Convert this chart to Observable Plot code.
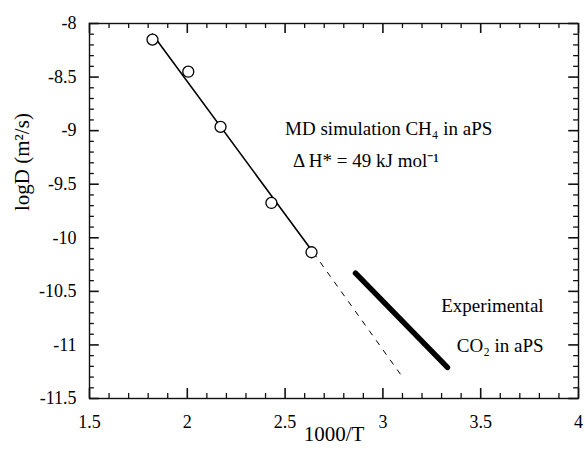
<!DOCTYPE html>
<html><head><meta charset="utf-8">
<script src="https://cdn.jsdelivr.net/npm/d3@7"></script>
<script src="https://cdn.jsdelivr.net/npm/@observablehq/plot@0.6"></script>
<style>body{margin:0;background:#fff}</style>
</head><body><div id="chart"></div>
<script>
// MD simulation points (1000/T, logD)
const mdX = [1.822, 2.005, 2.17, 2.43, 2.635];
const mdY = [-8.15, -8.45, -8.965, -9.675, -10.135];
// Arrhenius fit line (solid part and dashed extrapolation)
const fitX = [1.822, 2.645];
const fitY = [-8.10, -10.14];
const extX = [2.645, 3.10];
const extY = [-10.14, -11.30];
// Experimental CO2 in aPS
const expX = [2.86, 3.33];
const expY = [-10.33, -11.21];
// Axis ticks
const xTicks = [1.5, 2, 2.5, 3, 3.5, 4];
const yTicks = [-8, -8.5, -9, -9.5, -10, -10.5, -11, -11.5];
const xMinor = [1.6, 1.7, 1.8, 1.9, 2.1, 2.2, 2.3, 2.4, 2.6, 2.7, 2.8, 2.9, 3.1, 3.2, 3.3, 3.4, 3.6, 3.7, 3.8, 3.9];
const yMinor = [-8.1, -8.2, -8.3, -8.4, -8.6, -8.7, -8.8, -8.9, -9.1, -9.2, -9.3, -9.4, -9.6, -9.7, -9.8, -9.9,
  -10.1, -10.2, -10.3, -10.4, -10.6, -10.7, -10.8, -10.9, -11.1, -11.2, -11.3, -11.4];
// Texts
const annotLeft = [
  {x: 2.50, y: -8.98, text: "MD simulation CH₄ in aPS"},
  {x: 2.54, y: -9.28, text: "Δ H* = 49 kJ mol⁻¹"}
];
const annotMid = [
  {x: 3.56, y: -10.64, text: "Experimental"},
  {x: 3.60, y: -11.01, text: "CO₂ in aPS"}
];
const xLabel = "1000/T";
const yLabel = "logD (m²/s)";

const W = 585, H = 453, mL = 89, mR = 7, mT = 23, mB = 55;
const xLo = 1.5, xHi = 4, yLo = -11.5, yHi = -8;
const toPts = (xs, ys) => xs.map((x, i) => ({x, y: ys[i]}));
// tick lengths in data units (≈10 px major, ≈5 px minor)
const majX = 0.05, majY = 0.093, minX = 0.025, minY = 0.047;

const chart = Plot.plot({
  width: W, height: H,
  marginLeft: mL, marginRight: mR, marginTop: mT, marginBottom: mB,
  style: {fontFamily: "'Liberation Serif', 'Times New Roman', serif", fontSize: "18px", color: "black", background: "white"},
  x: {domain: [xLo, xHi]},
  y: {domain: [yLo, yHi]},
  marks: [
    Plot.frame({stroke: "#111", strokeWidth: 1.4}),
    Plot.ruleX(xTicks, {x: d => d, y1: () => yLo, y2: () => yLo + majY, stroke: "#111", strokeWidth: 1.6}),
    Plot.ruleX(xTicks, {x: d => d, y1: () => yHi, y2: () => yHi - majY, stroke: "#111", strokeWidth: 1.6}),
    Plot.ruleY(yTicks, {y: d => d, x1: () => xLo, x2: () => xLo + majX, stroke: "#111", strokeWidth: 1.6}),
    Plot.ruleY(yTicks, {y: d => d, x1: () => xHi, x2: () => xHi - majX, stroke: "#111", strokeWidth: 1.6}),
    Plot.ruleX(xMinor, {x: d => d, y1: () => yLo, y2: () => yLo + minY, stroke: "#111", strokeWidth: 1.3}),
    Plot.ruleX(xMinor, {x: d => d, y1: () => yHi, y2: () => yHi - minY, stroke: "#111", strokeWidth: 1.3}),
    Plot.ruleY(yMinor, {y: d => d, x1: () => xLo, x2: () => xLo + minX, stroke: "#111", strokeWidth: 1.3}),
    Plot.ruleY(yMinor, {y: d => d, x1: () => xHi, x2: () => xHi - minX, stroke: "#111", strokeWidth: 1.3}),
    Plot.axisX({ticks: xTicks, tickSize: 0, tickPadding: 17, tickFormat: d => String(d), fontSize: 18, label: null}),
    Plot.axisY({ticks: yTicks, tickSize: 0, tickPadding: 13, tickFormat: d => String(d), fontSize: 18, label: null}),
    Plot.line(toPts(fitX, fitY), {x: "x", y: "y", stroke: "black", strokeWidth: 1.6}),
    Plot.line(toPts(extX, extY), {x: "x", y: "y", stroke: "black", strokeWidth: 1, strokeDasharray: "5,7"}),
    Plot.line(toPts(expX, expY), {x: "x", y: "y", stroke: "black", strokeWidth: 5.5, strokeLinecap: "round"}),
    Plot.dot(toPts(mdX, mdY), {x: "x", y: "y", r: 5.5, stroke: "black", fill: "white", strokeWidth: 1.3}),
    Plot.text(annotLeft, {x: "x", y: "y", text: "text", textAnchor: "start", fontSize: 19, fill: "black"}),
    Plot.text(annotMid, {x: "x", y: "y", text: "text", textAnchor: "middle", fontSize: 19, fill: "black"}),
    Plot.text([xLabel], {frameAnchor: "bottom", dy: 42, fontSize: 21, fill: "black"}),
    Plot.text([yLabel], {frameAnchor: "left", dx: -67, rotate: -90, fontSize: 21, fill: "black"})
  ]
});
document.getElementById("chart").appendChild(chart);
</script>
</body></html>
